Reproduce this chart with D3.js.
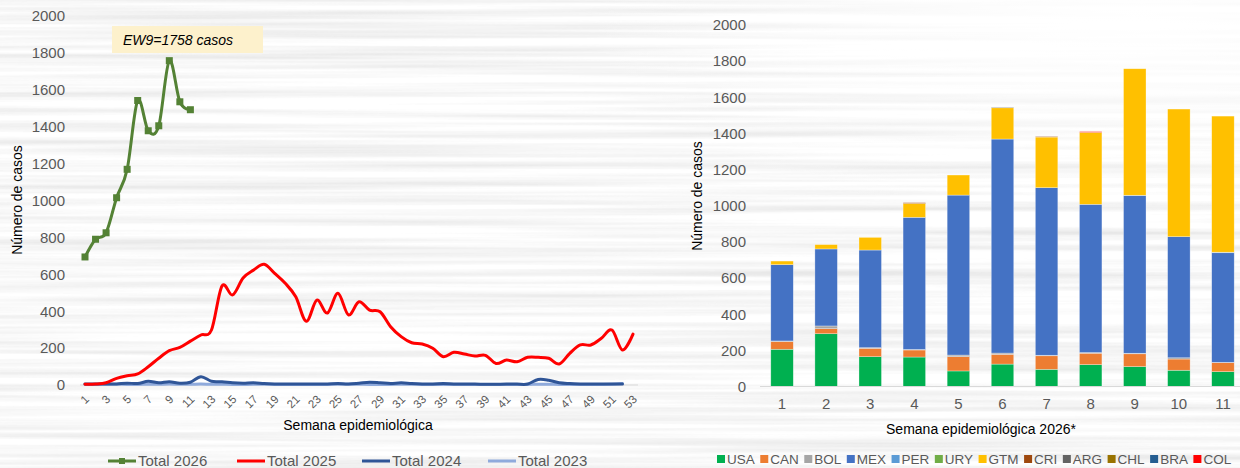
<!DOCTYPE html>
<html>
<head>
<meta charset="utf-8">
<script src="https://cdn.jsdelivr.net/npm/d3@7"></script>
<style>
  body { margin: 0; background: #fff; }
  svg { display: block; font-family: "Liberation Sans", Arial, sans-serif; }
</style>
</head>
<body>
<div id="chart"></div>
<script>
// weekly totals, left chart
const weeks = d3.range(1, 54);
const weeks2026 = [1, 2, 3, 4, 5, 6, 7, 8, 9, 10, 11];
const total2026 = [694, 790, 825, 1015, 1169, 1542, 1378, 1405, 1758, 1535, 1492];
const total2025 = [4, 5, 12, 36, 50, 60, 99, 145, 186, 204, 238, 271, 298, 537, 488, 580, 623, 654, 605, 551,
  478, 345, 460, 390, 497, 380, 451, 406, 397, 316, 262, 229, 222, 199, 153, 177, 168, 157, 161, 117,
  135, 126, 150, 150, 145, 114, 172, 217, 217, 253, 298, 190, 276];
const total2024 = [6, 5, 5, 6, 10, 8, 20, 12, 18, 10, 15, 45, 20, 18, 12, 10, 12, 8, 6, 5,
  5, 5, 5, 6, 8, 6, 10, 15, 12, 8, 12, 8, 6, 6, 8, 6, 5, 5, 4, 4,
  5, 5, 5, 30, 26, 12, 8, 6, 5, 5, 5, 5];
const total2023 = [3, 3, 4, 4, 3, 3, 4, 4, 5, 4, 4, 5, 4, 4, 3, 3, 4, 4, 3, 3,
  3, 3, 3, 3, 4, 4, 4, 3, 3, 3, 4, 4, 3, 3, 3, 3, 3, 3, 3, 3,
  3, 3, 3, 4, 4, 3, 3, 3, 3, 3, 4, 8];
const yTicks = [0, 200, 400, 600, 800, 1000, 1200, 1400, 1600, 1800, 2000];

// cases by country, right chart
const barWeeks = [1, 2, 3, 4, 5, 6, 7, 8, 9, 10, 11];
const countries = ['USA', 'CAN', 'BOL', 'MEX', 'PER', 'URY', 'GTM', 'CRI', 'ARG', 'CHL', 'BRA', 'COL'];
const countryColors = ['#00b050', '#ed7d31', '#a5a5a5', '#4472c4', '#5b9bd5', '#70ad47', '#ffc000', '#9e480e', '#636363', '#997300', '#255e91', '#ff0000'];
const usa = [206, 292, 165, 163, 86, 124, 95, 121, 110, 90, 82];
const can = [42, 28, 46, 39, 79, 54, 75, 63, 71, 62, 50];
const bol = [4, 15, 4, 3, 9, 7, 3, 4, 3, 7, 2];
const mex = [422, 426, 540, 731, 885, 1184, 927, 820, 872, 670, 606];
const per = [0, 0, 0, 0, 0, 0, 0, 0, 2, 0, 3];
const ury = [0, 0, 0, 0, 0, 0, 0, 0, 0, 0, 0];
const gtm = [20, 24, 70, 77, 111, 173, 280, 398, 700, 706, 753];
const cri = [0, 0, 0, 4, 0, 0, 3, 0, 0, 0, 0];
const arg = [0, 0, 0, 0, 0, 3, 0, 0, 0, 0, 0];
const chl = [0, 0, 0, 0, 0, 0, 0, 0, 0, 0, 0];
const bra = [0, 0, 0, 0, 0, 0, 0, 0, 0, 0, 0];
const col = [0, 0, 0, 0, 0, 0, 0, 4, 0, 0, 0];

const width = 1240;
const height = 468;
const tickGray = '#595959';
const fmt = d3.format('d');

const svg = d3.select('#chart')
  .append('svg')
  .attr('width', width)
  .attr('height', height);

// paper-like streaky background
const defs = svg.append('defs');
const paper = defs.append('filter').attr('id', 'paper')
  .attr('x', 0).attr('y', 0).attr('width', '100%').attr('height', '100%');
paper.append('feTurbulence')
  .attr('type', 'fractalNoise')
  .attr('baseFrequency', '0.0015 0.13')
  .attr('numOctaves', 3)
  .attr('seed', 7);
paper.append('feColorMatrix')
  .attr('type', 'matrix')
  .attr('values', '0 0 0 0 0.6  0 0 0 0 0.6  0 0 0 0 0.6  1.9 0 0 0 -0.7');
const fade = defs.append('radialGradient').attr('id', 'fade')
  .attr('cx', '0.92').attr('cy', '0.05').attr('r', '0.45');
fade.append('stop').attr('offset', '0').attr('stop-color', '#fff').attr('stop-opacity', 1);
fade.append('stop').attr('offset', '1').attr('stop-color', '#fff').attr('stop-opacity', 0);

svg.append('rect').attr('width', width).attr('height', height).attr('fill', '#fff');
svg.append('rect').attr('width', width).attr('height', height)
  .attr('filter', 'url(#paper)').attr('opacity', 0.5);
svg.append('rect').attr('width', width).attr('height', height).attr('fill', 'url(#fade)');

// ---------- left chart ----------
const x = d3.scalePoint().domain(weeks).range([85, 633]);
const y = d3.scaleLinear().domain([0, 2000]).range([385, 16]);

const left = svg.append('g');

left.append('line')
  .attr('x1', 80).attr('x2', 638)
  .attr('y1', y(0)).attr('y2', y(0))
  .attr('stroke', '#d9d9d9').attr('stroke-width', 1);

left.append('g')
  .attr('transform', 'translate(65,0)')
  .call(d3.axisLeft(y).tickValues(yTicks).tickFormat(fmt).tickSize(0).tickPadding(0))
  .call(g => g.select('.domain').remove())
  .call(g => g.selectAll('text')
    .attr('fill', tickGray)
    .style('font-size', '15px'));

left.append('g')
  .attr('transform', `translate(0,${y(0) + 8})`)
  .call(d3.axisBottom(x).tickValues(weeks.filter(w => w % 2 === 1)).tickSize(0).tickPadding(0))
  .call(g => g.select('.domain').remove())
  .call(g => g.selectAll('text')
    .attr('fill', tickGray)
    .style('font-size', '11.5px')
    .attr('text-anchor', 'end')
    .attr('dy', '0.35em')
    .attr('transform', 'translate(1.5,4) rotate(-45)'));

left.append('text')
  .attr('transform', 'translate(22,200) rotate(-90)')
  .attr('text-anchor', 'middle')
  .style('font-size', '14px')
  .text('Número de casos');

left.append('text')
  .attr('x', 358).attr('y', 430)
  .attr('text-anchor', 'middle')
  .style('font-size', '14px')
  .text('Semana epidemiológica');

const line = d3.line()
  .x(d => x(d.week))
  .y(d => y(d.value))
  .curve(d3.curveCatmullRom.alpha(0));

const series = [
  { name: 'Total 2023', values: total2023, color: '#8faadc' },
  { name: 'Total 2024', values: total2024, color: '#2f5597' },
  { name: 'Total 2025', values: total2025, color: '#ff0000' }
];

series.forEach(s => {
  left.append('path')
    .datum(s.values.map((v, i) => ({ week: weeks[i], value: v })))
    .attr('d', line)
    .attr('fill', 'none')
    .attr('stroke', s.color)
    .attr('stroke-width', 3)
    .attr('stroke-linecap', 'round');
});

const data2026 = weeks2026.map((w, i) => ({ week: w, value: total2026[i] }));
left.append('path')
  .datum(data2026)
  .attr('d', line)
  .attr('fill', 'none')
  .attr('stroke', '#548235')
  .attr('stroke-width', 3);

left.selectAll('rect.marker')
  .data(data2026)
  .join('rect')
  .attr('class', 'marker')
  .attr('x', d => x(d.week) - 3.5)
  .attr('y', d => y(d.value) - 3.5)
  .attr('width', 7).attr('height', 7)
  .attr('fill', '#548235');

// annotation
left.append('rect')
  .attr('x', 112).attr('y', 26)
  .attr('width', 151).attr('height', 27)
  .attr('fill', '#fdf1cc');
left.append('text')
  .attr('x', 123).attr('y', 44.5)
  .style('font-size', '14px')
  .style('font-style', 'italic')
  .text('EW9=1758 casos');

// legend
const legendLeft = [
  { name: 'Total 2026', color: '#548235', x: 108, marker: true },
  { name: 'Total 2025', color: '#ff0000', x: 237 },
  { name: 'Total 2024', color: '#2f5597', x: 362 },
  { name: 'Total 2023', color: '#8faadc', x: 488 }
];
const lgL = left.selectAll('g.lg')
  .data(legendLeft)
  .join('g')
  .attr('class', 'lg')
  .attr('transform', d => `translate(${d.x},461)`);
lgL.append('line')
  .attr('x1', 0).attr('x2', 28)
  .attr('stroke', d => d.color)
  .attr('stroke-width', 3);
lgL.filter(d => d.marker).append('rect')
  .attr('x', 11).attr('y', -3).attr('width', 6).attr('height', 6)
  .attr('fill', d => d.color);
lgL.append('text')
  .attr('x', 30).attr('dy', '0.35em')
  .attr('fill', tickGray)
  .style('font-size', '15px')
  .text(d => d.name);

// ---------- right chart ----------
const byCountry = [usa, can, bol, mex, per, ury, gtm, cri, arg, chl, bra, col];
const rows = barWeeks.map((w, i) => {
  const row = { week: w };
  countries.forEach((c, j) => { row[c] = byCountry[j][i]; });
  return row;
});
const stacked = d3.stack().keys(countries)(rows);

const xb = d3.scaleBand().domain(barWeeks).range([760, 1245]).paddingInner(0.49).paddingOuter(0.245);
const yb = d3.scaleLinear().domain([0, 2000]).range([386.5, 25]);
const color = d3.scaleOrdinal().domain(countries).range(countryColors);

const right = svg.append('g');

right.append('g')
  .attr('transform', 'translate(746,0)')
  .call(d3.axisLeft(yb).tickValues(yTicks).tickFormat(fmt).tickSize(0).tickPadding(0))
  .call(g => g.select('.domain').remove())
  .call(g => g.selectAll('text')
    .attr('fill', tickGray)
    .style('font-size', '15px'));

right.append('g')
  .selectAll('g')
  .data(stacked)
  .join('g')
  .attr('fill', d => color(d.key))
  .selectAll('rect')
  .data(d => d.filter(s => s[1] > s[0]))
  .join('rect')
  .attr('x', d => xb(d.data.week))
  .attr('y', d => yb(d[1]))
  .attr('width', xb.bandwidth())
  .attr('height', d => yb(d[0]) - yb(d[1]))
  .attr('stroke', '#fff')
  .attr('stroke-opacity', 0.5)
  .attr('stroke-width', 0.6);

right.append('line')
  .attr('x1', 760).attr('x2', 1240)
  .attr('y1', yb(0)).attr('y2', yb(0))
  .attr('stroke', '#d9d9d9').attr('stroke-width', 1);

right.append('g')
  .attr('transform', `translate(0,${yb(0) + 12})`)
  .call(d3.axisBottom(xb).tickSize(0).tickPadding(0))
  .call(g => g.select('.domain').remove())
  .call(g => g.selectAll('text')
    .attr('fill', tickGray)
    .attr('dy', '0.71em')
    .style('font-size', '15px'));

right.append('text')
  .attr('transform', 'translate(702,196) rotate(-90)')
  .attr('text-anchor', 'middle')
  .style('font-size', '14px')
  .text('Número de casos');

right.append('text')
  .attr('x', 981).attr('y', 434)
  .attr('text-anchor', 'middle')
  .style('font-size', '14px')
  .text('Semana epidemiológica 2026*');

// legend, laid out by text width
const lgR = right.append('g').attr('transform', 'translate(717,459)');
let lx = 0;
countries.forEach(c => {
  const item = lgR.append('g').attr('transform', `translate(${lx},0)`);
  item.append('rect')
    .attr('x', 0).attr('y', -4).attr('width', 8).attr('height', 8)
    .attr('fill', color(c));
  const t = item.append('text')
    .attr('x', 10).attr('dy', '0.35em')
    .attr('fill', tickGray)
    .style('font-size', '13.5px')
    .text(c);
  lx += 10 + t.node().getComputedTextLength() + 5.5;
});
</script>
</body>
</html>
